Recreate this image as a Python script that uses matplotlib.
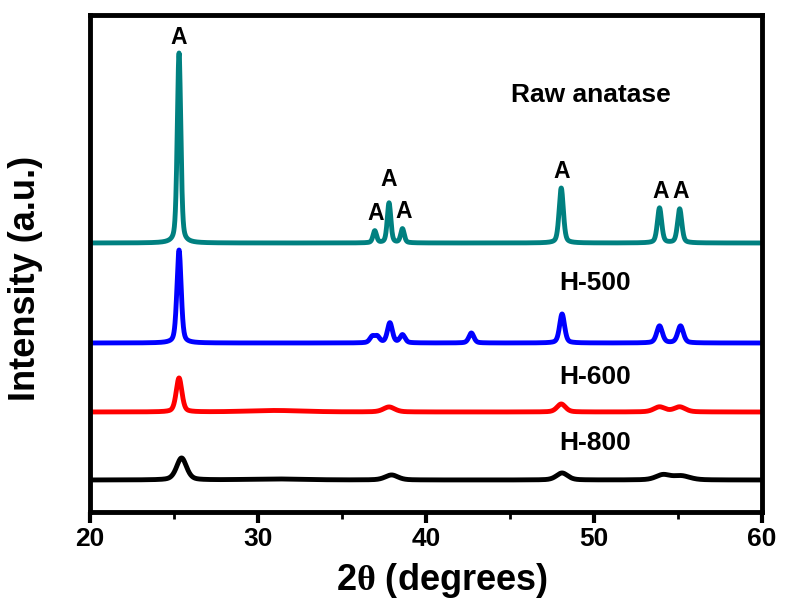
#!/usr/bin/env python3
# -*- coding: utf-8 -*-
"""XRD patterns of raw anatase and the H-500 / H-600 / H-800 samples."""
import matplotlib
matplotlib.use("Agg")
import matplotlib.pyplot as plt
from matplotlib.ticker import MultipleLocator
import numpy as np

# Scan range of the diffractometer (degrees 2theta)
two_theta = np.linspace(20, 60, 4001)

# Peak tables: position, height above baseline, FWHM
raw_pos = [25.3, 36.95, 37.8, 38.6, 48.05, 53.9, 55.1]
raw_height = [190, 12, 40, 14, 55, 35, 34]
raw_fwhm = [0.25, 0.25, 0.25, 0.25, 0.3, 0.3, 0.3]
raw_base = 269

h500_pos = [25.3, 36.8, 37.1, 37.85, 38.6, 42.7, 48.1, 53.9, 55.15]
h500_height = [93, 6, 6, 20, 8, 10, 29, 17, 17]
h500_fwhm = [0.3, 0.35, 0.35, 0.35, 0.35, 0.35, 0.35, 0.4, 0.4]
h500_base = 169

h600_pos = [25.3, 31.0, 37.8, 48.05, 53.9, 55.1]
h600_height = [34, 1.5, 5, 8, 5, 5]
h600_fwhm = [0.4, 4.0, 0.8, 0.6, 0.8, 0.8]
h600_base = 100

h800_pos = [25.45, 31.0, 37.95, 48.1, 54.1, 55.2]
h800_height = [22, 1, 5, 7, 5, 4]
h800_fwhm = [0.7, 4.0, 0.9, 0.8, 1.0, 1.2]
h800_base = 32

# Anatase reflections marked with "A" on the raw pattern (position, label height)
a_pos = [25.3, 37.0, 37.8, 38.65, 48.1, 53.95, 55.15]
a_y = [474, 299, 332, 301, 340, 321, 321]

names = ["Raw anatase", "H-500", "H-600", "H-800"]
name_x = [49.8, 50.05, 50.05, 50.05]
name_y = [417, 229, 135, 69]
colors = ["#008080", "#0000ff", "#ff0000", "#000000"]


def pattern(pos, height, fwhm, base):
    """Sum of pseudo-Voigt peaks on a flat baseline."""
    y = np.full_like(two_theta, float(base))
    for p, h, w in zip(pos, height, fwhm):
        g = np.exp(-4 * np.log(2) * ((two_theta - p) / w) ** 2)
        lo = 1 / (1 + 4 * ((two_theta - p) / w) ** 2)
        y += h * (0.6 * g + 0.4 * lo)
    return y


plt.rcParams["font.family"] = ["Liberation Sans", "DejaVu Sans"]
plt.rcParams["font.weight"] = "bold"
plt.rcParams["mathtext.fontset"] = "custom"
plt.rcParams["mathtext.rm"] = "Liberation Serif"

fig = plt.figure(figsize=(7.85, 6.07), dpi=100)
axe = fig.add_axes([90 / 785, 95 / 607, 672 / 785, 497 / 607])

series = [
    (raw_pos, raw_height, raw_fwhm, raw_base),
    (h500_pos, h500_height, h500_fwhm, h500_base),
    (h600_pos, h600_height, h600_fwhm, h600_base),
    (h800_pos, h800_height, h800_fwhm, h800_base),
]
for (pos, height, fwhm, base), color in zip(series, colors):
    axe.plot(two_theta, pattern(pos, height, fwhm, base), color=color,
             lw=3.5, solid_joinstyle="round")

for x, y in zip(a_pos, a_y):
    axe.text(x, y, "A", ha="center", va="center", fontsize=16.5,
             fontweight="bold")

for name, x, y in zip(names, name_x, name_y):
    axe.text(x, y, name, ha="center", va="center", fontsize=19,
             fontweight="bold")

axe.set_xlim(20, 60)
axe.set_ylim(0, 497)
axe.xaxis.set_major_locator(MultipleLocator(10))
axe.xaxis.set_minor_locator(MultipleLocator(5))
axe.set_yticks([])
axe.tick_params(axis="x", which="major", direction="out", length=8,
                width=3, labelsize=19, pad=3)
axe.tick_params(axis="x", which="minor", direction="out", length=5, width=2)
for label in axe.get_xticklabels():
    label.set_fontweight("bold")
for spine in axe.spines.values():
    spine.set_linewidth(3.5)

axe.set_xlabel(r"2$\mathrm{\theta}$ (degrees)", fontsize=26,
               fontweight="bold")
axe.xaxis.set_label_coords(0.524, -0.098)
axe.set_ylabel("Intensity (a.u.)", fontsize=26, fontweight="bold")
axe.yaxis.set_label_coords(-0.07, 0.47)

fig.savefig("out.png", dpi=100)
